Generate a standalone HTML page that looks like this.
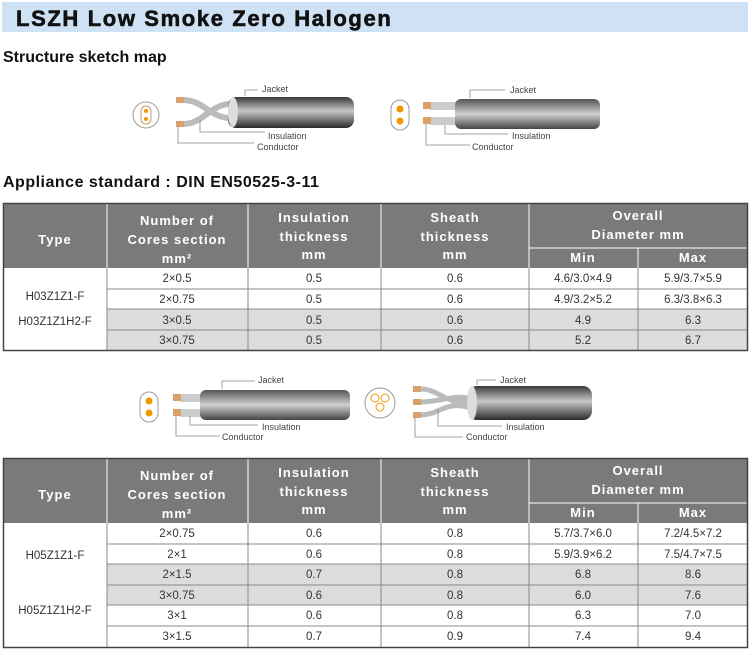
<!DOCTYPE html>
<html><head><meta charset="utf-8"><style>
html,body{margin:0;padding:0;background:#fff;width:750px;height:651px;overflow:hidden}
svg{display:block}
.h{font-family:"Liberation Sans",sans-serif;font-weight:bold;fill:#fff;font-size:13px;letter-spacing:1px;text-anchor:middle}
.d{font-family:"Liberation Sans",sans-serif;fill:#333;font-size:11.5px;text-anchor:middle}
.l{font-family:"Liberation Sans",sans-serif;fill:#444;font-size:9px}
</style></head><body>
<svg width="750" height="651" viewBox="0 0 750 651" xmlns="http://www.w3.org/2000/svg">
<defs>
<linearGradient id="g" x1="0" y1="0" x2="0" y2="1"><stop offset="0" stop-color="#3a3a3a"/><stop offset="0.45" stop-color="#c8c8c8"/><stop offset="1" stop-color="#2a2a2a"/></linearGradient>
<linearGradient id="gf" x1="0" y1="0" x2="0" y2="1"><stop offset="0" stop-color="#555"/><stop offset="0.5" stop-color="#d0d0d0"/><stop offset="1" stop-color="#444"/></linearGradient>
</defs>
<rect x="2" y="2" width="746" height="30" fill="#cfe2f5"/>
<text x="16" y="26" font-family="Liberation Sans,sans-serif" font-weight="bold" font-size="22" letter-spacing="1.2" textLength="376" lengthAdjust="spacing" fill="#111" stroke="#111" stroke-width="0.6">LSZH Low Smoke Zero Halogen</text>
<text x="3" y="62" font-family="Liberation Sans,sans-serif" font-weight="bold" font-size="16" fill="#111">Structure sketch map</text>
<text x="3" y="187" font-family="Liberation Sans,sans-serif" font-weight="bold" font-size="16" letter-spacing="0.5" fill="#111">Appliance standard : DIN EN50525-3-11</text>

<circle cx="146" cy="115" r="13" fill="#fff" stroke="#999"/>
<rect x="141" y="106" width="10" height="18" rx="5" fill="#fff" stroke="#c96"/>
<circle cx="146" cy="111" r="2" fill="#e90"/><circle cx="146" cy="119" r="2" fill="#e90"/>
<path d="M183 100 C205 100 210 120 235 118 M183 124 C205 124 210 102 235 104" stroke="#bbb" stroke-width="6" fill="none"/>
<rect x="176" y="97" width="8" height="6" fill="#d9a06a"/><rect x="176" y="121" width="8" height="6" fill="#d9a06a"/>
<rect x="228" y="97" width="126" height="31" rx="8" fill="url(#g)"/>
<ellipse cx="233" cy="112" rx="5" ry="15" fill="#ddd"/>
<path d="M245 96 V90 H258 M200 120 V132 H265 M178 127 V143 H254" stroke="#888" fill="none" stroke-width="0.8"/>
<text class="l" x="262" y="92">Jacket</text><text class="l" x="268" y="139">Insulation</text><text class="l" x="257" y="150">Conductor</text>
<rect x="391" y="100" width="18" height="30" rx="9" fill="#fff" stroke="#999"/>
<circle cx="400" cy="109" r="3.5" fill="#e90"/><circle cx="400" cy="121" r="3.5" fill="#e90"/>
<rect x="430" y="102" width="30" height="8" fill="#ccc"/><rect x="430" y="117" width="30" height="8" fill="#ccc"/>
<rect x="423" y="102" width="8" height="7" fill="#d9a06a"/><rect x="423" y="117" width="8" height="7" fill="#d9a06a"/>
<rect x="455" y="99" width="145" height="30" rx="6" fill="url(#gf)"/>
<path d="M470 98 V90 H505 M445 125 V134 H508 M426 124 V145 H470" stroke="#888" fill="none" stroke-width="0.8"/>
<text class="l" x="510" y="93">Jacket</text><text class="l" x="512" y="139">Insulation</text><text class="l" x="472" y="150">Conductor</text>

<g>
<rect x="3" y="203" width="745" height="65" fill="#7a7a7a"/>
<rect x="107" y="268" width="641" height="41" fill="#fff"/>
<rect x="107" y="309" width="641" height="42" fill="#dcdcdc"/>
<g stroke="#fff" stroke-width="1"><line x1="107" y1="203" x2="107" y2="268"/><line x1="248" y1="203" x2="248" y2="268"/><line x1="381" y1="203" x2="381" y2="268"/><line x1="529" y1="203" x2="529" y2="268"/><line x1="638" y1="248" x2="638" y2="268"/><line x1="529" y1="248" x2="748" y2="248"/></g>
<g stroke="#888" stroke-width="1"><line x1="107" y1="268" x2="107" y2="351"/><line x1="248" y1="268" x2="248" y2="351"/><line x1="381" y1="268" x2="381" y2="351"/><line x1="529" y1="268" x2="529" y2="351"/><line x1="638" y1="268" x2="638" y2="351"/><line x1="107" y1="289" x2="748" y2="289"/><line x1="107" y1="309" x2="748" y2="309"/><line x1="107" y1="330" x2="748" y2="330"/></g>
<rect x="3.5" y="203.5" width="744" height="147" fill="none" stroke="#444" stroke-width="1.5"/>
<text class="h" x="55" y="244">Type</text>
<text class="h" x="177" y="225">Number of</text><text class="h" x="177" y="244">Cores section</text><text class="h" x="177" y="263">mm²</text>
<text class="h" x="314" y="222">Insulation</text><text class="h" x="314" y="241">thickness</text><text class="h" x="314" y="259">mm</text>
<text class="h" x="455" y="222">Sheath</text><text class="h" x="455" y="241">thickness</text><text class="h" x="455" y="259">mm</text>
<text class="h" x="638" y="220">Overall</text><text class="h" x="638" y="239">Diameter mm</text>
<text class="h" x="583" y="262" font-size="12">Min</text><text class="h" x="693" y="262" font-size="12">Max</text>
<text class="d" x="55" y="300">H03Z1Z1-F</text><text class="d" x="55" y="325">H03Z1Z1H2-F</text>
<text class="d" x="177" y="282">2×0.5</text><text class="d" x="314" y="282">0.5</text><text class="d" x="455" y="282">0.6</text><text class="d" x="583" y="282">4.6/3.0×4.9</text><text class="d" x="693" y="282">5.9/3.7×5.9</text>
<text class="d" x="177" y="303">2×0.75</text><text class="d" x="314" y="303">0.5</text><text class="d" x="455" y="303">0.6</text><text class="d" x="583" y="303">4.9/3.2×5.2</text><text class="d" x="693" y="303">6.3/3.8×6.3</text>
<text class="d" x="177" y="324">3×0.5</text><text class="d" x="314" y="324">0.5</text><text class="d" x="455" y="324">0.6</text><text class="d" x="583" y="324">4.9</text><text class="d" x="693" y="324">6.3</text>
<text class="d" x="177" y="344">3×0.75</text><text class="d" x="314" y="344">0.5</text><text class="d" x="455" y="344">0.6</text><text class="d" x="583" y="344">5.2</text><text class="d" x="693" y="344">6.7</text>
</g>

<rect x="140" y="392" width="18" height="30" rx="9" fill="#fff" stroke="#999"/>
<circle cx="149" cy="401" r="3.5" fill="#e90"/><circle cx="149" cy="413" r="3.5" fill="#e90"/>
<rect x="180" y="394" width="25" height="8" fill="#ccc"/><rect x="180" y="409" width="25" height="8" fill="#ccc"/>
<rect x="173" y="394" width="8" height="7" fill="#d9a06a"/><rect x="173" y="409" width="8" height="7" fill="#d9a06a"/>
<rect x="200" y="390" width="150" height="30" rx="6" fill="url(#gf)"/>
<path d="M222 389 V381 H255 M190 416 V425 H258 M176 416 V436 H220" stroke="#888" fill="none" stroke-width="0.8"/>
<text class="l" x="258" y="383">Jacket</text><text class="l" x="262" y="430">Insulation</text><text class="l" x="222" y="440">Conductor</text>
<circle cx="380" cy="403" r="15" fill="#fff" stroke="#999"/>
<circle cx="375" cy="398" r="4" fill="#fff" stroke="#e90"/><circle cx="385" cy="398" r="4" fill="#fff" stroke="#e90"/><circle cx="380" cy="407" r="4" fill="#fff" stroke="#e90"/>
<path d="M420 389 C440 389 445 405 470 402 M420 402 C440 402 450 395 470 398 M420 415 C440 415 445 400 470 408" stroke="#bbb" stroke-width="5" fill="none"/>
<rect x="413" y="386" width="8" height="6" fill="#d9a06a"/><rect x="413" y="399" width="8" height="6" fill="#d9a06a"/><rect x="413" y="412" width="8" height="6" fill="#d9a06a"/>
<rect x="468" y="386" width="124" height="34" rx="9" fill="url(#g)"/>
<ellipse cx="472" cy="403" rx="5" ry="17" fill="#ddd"/>
<path d="M477 385 V380 H496 M438 410 V426 H502 M415 417 V437 H463" stroke="#888" fill="none" stroke-width="0.8"/>
<text class="l" x="500" y="383">Jacket</text><text class="l" x="506" y="430">Insulation</text><text class="l" x="466" y="440">Conductor</text>

<g>
<rect x="3" y="458" width="745" height="65" fill="#7a7a7a"/>
<rect x="107" y="564" width="641" height="41" fill="#dcdcdc"/>
<g stroke="#fff" stroke-width="1"><line x1="107" y1="458" x2="107" y2="523"/><line x1="248" y1="458" x2="248" y2="523"/><line x1="381" y1="458" x2="381" y2="523"/><line x1="529" y1="458" x2="529" y2="523"/><line x1="638" y1="503" x2="638" y2="523"/><line x1="529" y1="503" x2="748" y2="503"/></g>
<g stroke="#888" stroke-width="1"><line x1="107" y1="523" x2="107" y2="647"/><line x1="248" y1="523" x2="248" y2="647"/><line x1="381" y1="523" x2="381" y2="647"/><line x1="529" y1="523" x2="529" y2="647"/><line x1="638" y1="523" x2="638" y2="647"/><line x1="107" y1="544" x2="748" y2="544"/><line x1="107" y1="564" x2="748" y2="564"/><line x1="107" y1="585" x2="748" y2="585"/><line x1="107" y1="605" x2="748" y2="605"/><line x1="107" y1="626" x2="748" y2="626"/></g>
<rect x="3.5" y="458.5" width="744" height="189" fill="none" stroke="#444" stroke-width="1.5"/>
<text class="h" x="55" y="499">Type</text>
<text class="h" x="177" y="480">Number of</text><text class="h" x="177" y="499">Cores section</text><text class="h" x="177" y="518">mm²</text>
<text class="h" x="314" y="477">Insulation</text><text class="h" x="314" y="496">thickness</text><text class="h" x="314" y="514">mm</text>
<text class="h" x="455" y="477">Sheath</text><text class="h" x="455" y="496">thickness</text><text class="h" x="455" y="514">mm</text>
<text class="h" x="638" y="475">Overall</text><text class="h" x="638" y="494">Diameter mm</text>
<text class="h" x="583" y="517" font-size="12">Min</text><text class="h" x="693" y="517" font-size="12">Max</text>
<text class="d" x="55" y="559">H05Z1Z1-F</text><text class="d" x="55" y="614">H05Z1Z1H2-F</text>
<text class="d" x="177" y="537">2×0.75</text><text class="d" x="314" y="537">0.6</text><text class="d" x="455" y="537">0.8</text><text class="d" x="583" y="537">5.7/3.7×6.0</text><text class="d" x="693" y="537">7.2/4.5×7.2</text>
<text class="d" x="177" y="558">2×1</text><text class="d" x="314" y="558">0.6</text><text class="d" x="455" y="558">0.8</text><text class="d" x="583" y="558">5.9/3.9×6.2</text><text class="d" x="693" y="558">7.5/4.7×7.5</text>
<text class="d" x="177" y="578">2×1.5</text><text class="d" x="314" y="578">0.7</text><text class="d" x="455" y="578">0.8</text><text class="d" x="583" y="578">6.8</text><text class="d" x="693" y="578">8.6</text>
<text class="d" x="177" y="599">3×0.75</text><text class="d" x="314" y="599">0.6</text><text class="d" x="455" y="599">0.8</text><text class="d" x="583" y="599">6.0</text><text class="d" x="693" y="599">7.6</text>
<text class="d" x="177" y="619">3×1</text><text class="d" x="314" y="619">0.6</text><text class="d" x="455" y="619">0.8</text><text class="d" x="583" y="619">6.3</text><text class="d" x="693" y="619">7.0</text>
<text class="d" x="177" y="640">3×1.5</text><text class="d" x="314" y="640">0.7</text><text class="d" x="455" y="640">0.9</text><text class="d" x="583" y="640">7.4</text><text class="d" x="693" y="640">9.4</text>
</g>
</svg>
</body></html>
